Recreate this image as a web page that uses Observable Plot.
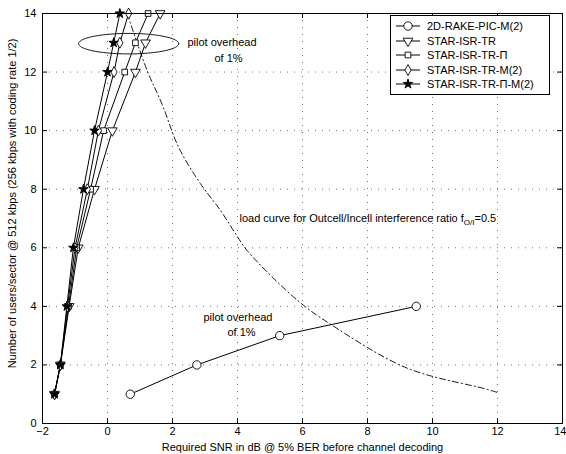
<!DOCTYPE html>
<html>
<head>
<meta charset="utf-8">
<script src="https://cdn.jsdelivr.net/npm/d3@7"></script>
<script src="https://cdn.jsdelivr.net/npm/@observablehq/plot@0.6"></script>
<style>
  body { margin: 0; background: #fff; }
  #wrap { position: relative; width: 566px; height: 454px; font-family: "Liberation Sans", Arial, Helvetica, sans-serif; }
  #legend { position: absolute; left: 390px; top: 15px; width: 160px; height: 80px; border: 1px solid #000; background: #fff; box-sizing: border-box; font-size: 11px; }
  .row { position: absolute; left: 0; height: 14px; display: flex; align-items: center; }
  .row svg { margin-left: 4px; margin-right: 6px; }
</style>
</head>
<body>
<div id="wrap"></div>
<script>
// ---------- data ----------
const xTicks = [-2, 0, 2, 4, 6, 8, 10, 12, 14];
const yTicks = [0, 2, 4, 6, 8, 10, 12, 14];
const seriesNames = ["2D-RAKE-PIC-M(2)", "STAR-ISR-TR", "STAR-ISR-TR-Π", "STAR-ISR-TR-M(2)", "STAR-ISR-TR-Π-M(2)"];

const rakeX = [0.7, 2.75, 5.3, 9.5];
const rakeY = [1, 2, 3, 4];

const starUsers = [1, 2, 4, 6, 8, 10, 12, 13, 14];
const trX     = [-1.63, -1.45, -1.18, -0.9, -0.4, 0.15, 0.86, 1.17, 1.62];
const trPiX   = [-1.63, -1.45, -1.2, -0.95, -0.52, -0.12, 0.53, 0.86, 1.25];
const trMX    = [-1.63, -1.45, -1.23, -1.0, -0.62, -0.28, 0.2, 0.38, 0.65];
const trPiMX  = [-1.63, -1.45, -1.25, -1.05, -0.74, -0.4, 0.0, 0.19, 0.38];

const loadX = [0.6, 0.71, 1.22, 1.68, 2.19, 2.86, 3.48, 3.94, 4.3, 5.85, 6.85, 9.2, 11.6, 12.03];
const loadY = [14, 13.65, 12.05, 10.9, 9.43, 8.19, 7.27, 6.48, 5.9, 4.2, 3.4, 1.9, 1.19, 1.05];

// annotation ellipse (center and radii in data units)
const ellCx = 0.65, ellCy = 12.97, ellRx = 1.54, ellRy = 0.35;

const xLabel = "Required SNR in dB @ 5% BER before channel decoding";
const yLabel = "Number of users/sector @ 512 kbps (256 kbps with coding rate 1/2)";
const loadLabel = "load curve for Outcell/Incell interference ratio f_O/I=0.5";

// ---------- build tables ----------
const triangleDown = {
  draw(ctx, size) {
    const s = Math.sqrt(size / (Math.sqrt(3) / 4));
    const h = s * Math.sqrt(3) / 2;
    ctx.moveTo(-s / 2, -h / 3);
    ctx.lineTo(s / 2, -h / 3);
    ctx.lineTo(0, 2 * h / 3);
    ctx.closePath();
  }
};
const symbolsFor = [d3.symbolCircle, triangleDown, d3.symbolSquare, d3.symbolDiamond, d3.symbolStar];
const rFor = [4.2, 3.6, 3.2, 3.3, 3.0];
const fillFor = ["white", "white", "white", "white", "black"];

const series = [
  rakeX.map((x, i) => ({s: 0, x, y: rakeY[i]})),
  trX.map((x, i) => ({s: 1, x, y: starUsers[i]})),
  trPiX.map((x, i) => ({s: 2, x, y: starUsers[i]})),
  trMX.map((x, i) => ({s: 3, x, y: starUsers[i]})),
  trPiMX.map((x, i) => ({s: 4, x, y: starUsers[i]}))
];
const load = loadX.map((x, i) => ({x, y: loadY[i]}));
const ellipse = d3.range(0, 361, 4).map(a => ({
  x: ellCx + ellRx * Math.cos(a * Math.PI / 180),
  y: ellCy + ellRy * Math.sin(a * Math.PI / 180)
}));

const W = 566, H = 454, mL = 42, mR = 4, mT = 13, mB = 31;
const pw = W - mL - mR, ph = H - mT - mB;

const marks = [
  Plot.gridX(xTicks.slice(1, -1), {stroke: "#000", strokeOpacity: 0.55, strokeDasharray: "1,6"}),
  Plot.gridY(yTicks.slice(1, -1), {stroke: "#000", strokeOpacity: 0.55, strokeDasharray: "1,6"}),
  Plot.tickX(xTicks, {x: d => d, insetTop: ph - 5, stroke: "#000"}),
  Plot.tickX(xTicks, {x: d => d, insetBottom: ph - 5, stroke: "#000"}),
  Plot.tickY(yTicks, {y: d => d, insetRight: pw - 5, stroke: "#000"}),
  Plot.tickY(yTicks, {y: d => d, insetLeft: pw - 5, stroke: "#000"}),
  Plot.axisX(xTicks.slice(0, -1), {tickSize: 0, tickPadding: 4, fontSize: 11, label: null}),
  Plot.axisX(xTicks.slice(-1), {tickSize: 0, tickPadding: 4, fontSize: 11, label: null, textAnchor: "end", dx: 4}),
  Plot.axisY(yTicks, {tickSize: 0, tickPadding: 6, fontSize: 11, label: null}),
  Plot.line(load, {x: "x", y: "y", curve: "catmull-rom", stroke: "#000", strokeWidth: 0.9, strokeDasharray: "6,3,1.2,3"}),
  Plot.line(ellipse, {x: "x", y: "y", stroke: "#000", strokeWidth: 0.9}),
];
series.forEach((data, k) => {
  marks.push(Plot.line(data, {x: "x", y: "y", stroke: "#000", strokeWidth: 1}));
});
series.forEach((data, k) => {
  marks.push(Plot.dot(data, {x: "x", y: "y", r: rFor[k], symbol: symbolsFor[k], fill: fillFor[k], stroke: "#000", strokeWidth: 0.9}));
});
marks.push(
  Plot.text(["pilot overhead"], {x: 2.46, y: 13.0, text: d => d, textAnchor: "start", fontSize: 11}),
  Plot.text(["of 1%"], {x: 3.29, y: 12.45, text: d => d, textAnchor: "start", fontSize: 11}),
  Plot.text(["pilot overhead"], {x: 2.95, y: 3.62, text: d => d, textAnchor: "start", fontSize: 11}),
  Plot.text(["of 1%"], {x: 3.69, y: 3.1, text: d => d, textAnchor: "start", fontSize: 11}),
  Plot.text([loadLabel], {x: 4.06, y: 7.0, text: d => d, textAnchor: "start", fontSize: 11}),
  Plot.text([xLabel], {frameAnchor: "bottom", dy: 24, lineAnchor: "middle", textAnchor: "middle", text: d => d, fontSize: 11}),
  Plot.text([yLabel], {frameAnchor: "left", dx: -30, dy: -15, rotate: -90, lineAnchor: "middle", textAnchor: "middle", text: d => d, fontSize: 11}),
  Plot.frame({stroke: "#000", strokeWidth: 1})
);

const plot = Plot.plot({
  width: W, height: H,
  marginLeft: mL, marginRight: mR, marginTop: mT, marginBottom: mB,
  style: {fontFamily: '"Liberation Sans", Arial, Helvetica, sans-serif', fontSize: "11px", color: "#000", background: "#fff"},
  x: {domain: [-2, 14], axis: null},
  y: {domain: [0, 14], axis: null},
  marks
});

// subscript in the load-curve label
d3.select(plot).selectAll("text").filter(function() { return this.textContent === loadLabel; })
  .each(function() {
    const t = d3.select(this);
    t.text("load curve for Outcell/Incell interference ratio f");
    t.append("tspan").attr("dy", 3).attr("font-size", 8).text("O/I");
    t.append("tspan").attr("dy", -3).text("=0.5");
  });

const wrap = document.getElementById("wrap");
wrap.appendChild(plot);

// legend overlay
const legend = document.createElement("div");
legend.id = "legend";
seriesNames.forEach((name, k) => {
  const row = document.createElement("div");
  row.className = "row";
  row.style.top = (3 + k * 14.6) + "px";
  const svg = d3.create("svg").attr("width", 26).attr("height", 12);
  svg.append("line").attr("x1", 1).attr("x2", 25).attr("y1", 6).attr("y2", 6).attr("stroke", "#000").attr("stroke-width", 1);
  svg.append("path")
    .attr("d", d3.symbol(symbolsFor[k], Math.PI * rFor[k] * rFor[k])())
    .attr("transform", "translate(13,6)")
    .attr("fill", fillFor[k]).attr("stroke", "#000").attr("stroke-width", 0.9);
  row.appendChild(svg.node());
  const span = document.createElement("span");
  span.textContent = name;
  row.appendChild(span);
  legend.appendChild(row);
});
wrap.appendChild(legend);
</script>
</body>
</html>
